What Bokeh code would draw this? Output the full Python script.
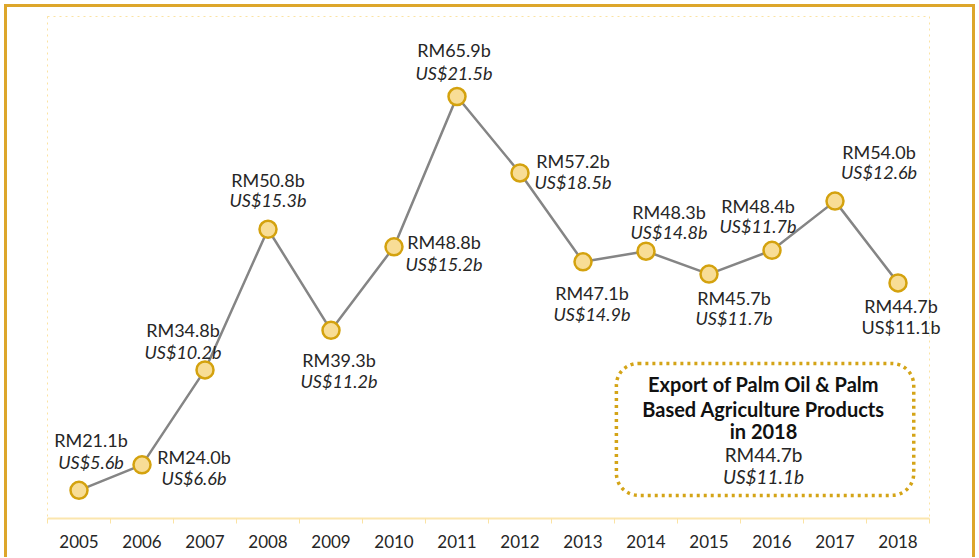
from bokeh.plotting import figure
from bokeh.models import Range1d, FixedTicker, BoxAnnotation, ColumnDataSource, Label, LabelSet
from bokeh.core.properties import value
from bokeh.embed import file_html
from bokeh.resources import INLINE

# ---- data ----
years = [2005, 2006, 2007, 2008, 2009, 2010, 2011, 2012, 2013, 2014, 2015, 2016, 2017, 2018]
rm_values = [21.1, 24.0, 34.8, 50.8, 39.3, 48.8, 65.9, 57.2, 47.1, 48.3, 45.7, 48.4, 54.0, 44.7]
usd_values = [5.6, 6.6, 10.2, 15.3, 11.2, 15.2, 21.5, 18.5, 14.9, 14.8, 11.7, 11.7, 12.6, 11.1]
summary_title = ["Export of Palm Oil & Palm", "Based Agriculture Products", "in 2018"]

# ---- label placement (screen px offsets from each point; positive = up) ----
label_dx = [12, 52, -22, 0, 8, 50, -3, 53, 9, 23, 25, -14, 44, 3]
rm_dy = [50, 7.5, 40, 49, -30, 5, 47, 12, -31, 39, -24, 44, 49, -23]
us_dy = [28, -13.5, 18, 29, -51, -17, 24, -9, -52, 19, -44, 24, 29, -44]
us_style = ["italic"] * 13 + ["normal"]

FONT = "Lato"
TXT = "#262626"
GOLD = "#DDA62A"

src = ColumnDataSource(dict(
    x=years, y=rm_values,
    rm=[f"RM{v:.1f}b" for v in rm_values],
    us=[f"US${v:.1f}b" for v in usd_values],
    dx=label_dx, rdy=rm_dy, udy=us_dy, ustyle=us_style,
))

x_lo, x_hi = years[0] - 0.5, years[-1] + 0.5
y_lo, y_hi = 17.9, 75.0

p = figure(width=977, height=557, output_backend="svg", toolbar_location=None,
           x_range=Range1d(x_lo - 4 / 63, x_hi + 16 / 63),
           y_range=Range1d(y_lo, y_hi + 4 / 8.79),
           min_border_left=43, min_border_right=32, min_border_top=12, min_border_bottom=39)

# golden page border painted behind a transparent canvas
g = f"linear-gradient({GOLD},{GOLD})"
p.styles = {
    "background": (f"{g} left 4px top 4px / 3px calc(100% - 4px) no-repeat, "
                   f"{g} left 4px top 4px / calc(100% - 6px) 3px no-repeat, "
                   f"{g} right 2px top 4px / 3px calc(100% - 4px) no-repeat, white"),
}
p.background_fill_color = None
p.border_fill_color = None
p.outline_line_color = None
p.xgrid.visible = False
p.ygrid.visible = False
p.yaxis.visible = False

# inner dotted plot border
p.add_layout(BoxAnnotation(left=x_lo, right=x_hi, top=y_hi, bottom=y_lo,
                           fill_alpha=0, line_alpha=1, line_color="#FBE3A3",
                           line_dash="dotted", line_width=1, level="underlay"))

ax = p.xaxis[0]
ax.bounds = (x_lo, x_hi)
ax.ticker = FixedTicker(ticks=years, minor_ticks=[y - 0.5 for y in years] + [x_hi])
ax.major_label_overrides = {y: str(y) for y in years}
ax.axis_line_color = "#FBE6AE"
ax.axis_line_width = 2
ax.major_tick_line_color = None
ax.major_tick_out = 0
ax.major_tick_in = 0
ax.minor_tick_line_color = "#FBE3A3"
ax.minor_tick_out = 5
ax.minor_tick_in = 0
ax.major_label_standoff = 11
ax.major_label_text_font = FONT
ax.major_label_text_font_size = "17px"
ax.major_label_text_color = TXT

p.line("x", "y", source=src, line_color="#858585", line_width=2.5)
p.scatter("x", "y", source=src, size=17, fill_color="#F8DD96", line_color="#D4A20E", line_width=2.5)

p.add_layout(LabelSet(x="x", y="y", text="rm", source=src, x_offset="dx", y_offset="rdy",
                      text_align="center", text_baseline="middle", text_font=value(FONT),
                      text_font_size="18px", text_color=TXT))
p.add_layout(LabelSet(x="x", y="y", text="us", source=src, x_offset="dx", y_offset="udy",
                      text_align="center", text_baseline="middle", text_font=value(FONT),
                      text_font_size="18px", text_color=TXT, text_font_style="ustyle"))

# summary box
box = BoxAnnotation(left=2013.53, right=2018.25, top=35.54, bottom=20.53,
                    fill_alpha=0, line_alpha=1, line_color="#D4A417", line_width=3.5,
                    line_dash="3 4", border_radius=22)
p.add_layout(box)

cx = 2015.865
title_y = [33.15, 30.31, 27.81]
for t, yy in zip(summary_title, title_y):
    p.add_layout(Label(x=cx, y=yy, text=t, text_align="center", text_baseline="middle",
                       text_font=FONT, text_font_style="bold", text_font_size="20px",
                       text_color="#111111"))
p.add_layout(Label(x=cx, y=25.19, text=f"RM{rm_values[-1]:.1f}b", text_align="center",
                   text_baseline="middle", text_font=FONT, text_font_size="19px", text_color=TXT))
p.add_layout(Label(x=cx, y=22.69, text=f"US${usd_values[-1]:.1f}b", text_align="center",
                   text_baseline="middle", text_font=FONT, text_font_style="italic",
                   text_font_size="19px", text_color=TXT))

open("out.html", "w").write(file_html(p, INLINE))
